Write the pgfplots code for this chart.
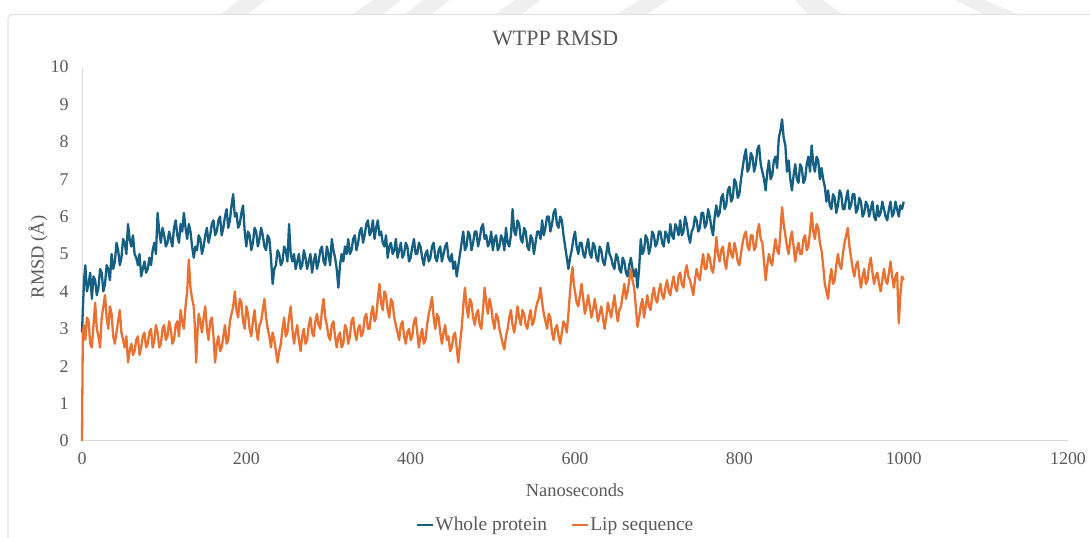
\documentclass[border=0pt]{standalone}
\usepackage{pgfplots}
\pgfplotsset{compat=1.18}
\usepackage{pgfplotstable}
\usepackage{fontspec}
\setmainfont{Liberation Serif}

\definecolor{wpblue}{HTML}{156082}
\definecolor{lporange}{HTML}{E97132}
\definecolor{txtgray}{HTML}{595959}
\definecolor{axgray}{HTML}{D9D9D9}
\definecolor{framegray}{HTML}{E3E3E3}
\definecolor{markgray}{HTML}{EFEFEF}

% RMSD of the whole protein (Angstrom) against simulation time (ns)
\pgfplotstableread{
t w
0 2.9
1 3.5
2.5 4.3
4 4.7
6 4.0
8 4.2
10 4.5
12 3.8
14 4.4
16 4.3
18 3.9
20 4.1
22 4.6
24 4.5
26 4.0
28 4.2
30 4.7
32 4.6
34 4.3
36 5.0
38 4.6
40 4.8
42 5.3
44 5.1
46 4.7
48 4.9
50 5.4
52 5.3
54 5.0
56 5.8
58 5.4
60 5.2
62 5.5
64 5.0
66 4.9
68 4.7
70 5.0
72 4.4
74 4.6
76 4.8
78 4.5
80 4.6
82 4.9
84 4.7
86 5.1
88 5.3
90 5.0
92 6.1
94 5.6
96 5.3
98 5.7
100 5.5
102 5.2
104 5.3
106 5.6
108 5.4
110 5.2
112 5.7
114 5.9
116 5.5
118 5.3
120 5.8
122 5.6
124 6.1
126 5.7
128 5.4
130 5.8
132 5.6
134 5.2
136 4.9
138 5.2
140 5.1
142 5.5
144 5.4
146 5.0
148 5.2
150 5.5
152 5.7
154 5.3
156 5.5
158 5.8
160 5.9
162 5.5
164 5.6
166 5.9
168 6.0
170 5.5
172 5.7
174 6.0
176 6.2
178 5.7
180 5.9
182 6.3
184 6.6
186 6.0
188 6.1
190 5.7
192 5.8
194 6.1
196 6.3
198 5.6
200 5.2
202 5.6
204 5.5
206 5.1
208 5.3
210 5.7
212 5.6
214 5.2
216 5.4
218 5.7
220 5.5
222 5.2
224 5.1
226 5.5
228 5.4
230 4.9
232 4.2
234 4.6
236 4.7
238 5.1
240 5.0
242 4.7
244 4.8
246 5.2
248 5.1
250 4.8
252 5.8
254 5.0
256 4.8
258 5.0
260 4.6
262 4.8
264 5.0
266 4.6
268 4.7
270 5.1
272 4.9
274 4.6
276 4.8
278 5.0
280 4.5
282 4.8
284 5.0
286 4.6
288 4.8
290 5.1
292 5.2
294 4.8
296 4.7
298 5.2
300 5.0
302 4.7
304 5.4
306 5.1
308 4.9
310 4.6
312 4.1
314 4.7
316 5.0
318 4.8
320 5.2
322 5.0
324 5.4
326 5.0
328 5.1
330 5.4
332 5.5
334 5.1
336 5.3
338 5.6
340 5.7
342 5.3
344 5.5
346 5.8
348 5.9
350 5.5
352 5.6
354 5.9
356 5.4
358 5.7
360 5.9
362 5.5
364 5.6
366 5.3
368 5.2
370 5.5
372 4.9
374 5.2
376 5.3
378 5.0
380 5.1
382 5.4
384 4.9
386 5.1
388 5.3
390 4.9
392 5.0
394 5.3
396 5.2
398 4.8
400 4.9
402 5.2
404 5.4
406 5.0
408 5.0
410 5.3
412 5.2
414 4.9
416 4.7
418 5.0
420 5.1
422 4.8
424 4.9
426 5.2
428 5.3
430 4.9
432 4.8
434 5.1
436 5.2
438 4.8
440 5.0
442 5.2
444 5.3
446 4.9
448 4.8
450 5.0
452 4.6
454 4.8
456 4.4
458 4.7
460 5.0
462 5.3
464 5.6
466 5.1
468 5.2
470 5.6
472 5.5
474 5.1
476 5.3
478 5.6
480 5.6
482 5.2
484 5.4
486 5.7
488 5.8
490 5.4
492 5.5
494 5.2
496 5.3
498 5.6
500 5.1
502 5.4
504 5.5
506 5.1
508 5.2
510 5.5
512 5.4
514 5.1
516 5.7
518 5.3
520 5.2
522 5.5
524 6.2
526 5.6
528 5.5
530 5.9
532 5.8
534 5.4
536 5.3
538 5.7
540 5.6
542 5.2
544 5.1
546 5.5
548 5.4
550 5.0
552 5.3
554 5.6
556 5.6
558 5.4
560 5.9
562 5.5
564 5.7
566 6.0
568 6.0
570 5.6
572 5.8
574 6.1
576 6.2
578 5.8
580 5.7
582 6.0
584 5.9
586 5.5
588 5.2
590 4.9
592 4.6
594 4.9
596 5.1
598 5.4
600 5.6
602 5.2
604 5.0
606 5.3
608 5.3
610 5.0
612 4.9
614 5.2
616 5.4
618 5.0
620 4.9
622 5.3
624 5.2
626 4.9
628 4.8
630 5.2
632 5.1
634 4.8
636 4.7
638 5.0
640 5.3
642 5.0
644 4.9
646 4.7
648 4.6
650 5.0
652 4.9
654 4.6
656 4.5
658 4.9
660 4.8
662 4.5
664 4.4
666 4.7
668 4.9
670 4.6
672 4.4
674 4.6
676 4.1
678 4.6
680 5.4
682 5.0
684 5.1
686 5.5
688 5.4
690 5.0
692 5.2
694 5.6
696 5.5
698 5.2
700 5.3
702 5.6
704 5.6
706 5.3
708 5.2
710 5.6
712 5.5
714 5.3
716 5.8
718 5.5
720 5.4
722 5.8
724 5.7
726 5.5
728 5.9
730 5.5
732 5.6
734 6.0
736 5.8
738 5.5
740 5.3
742 5.6
744 5.7
746 6.0
748 5.9
750 5.6
752 5.7
754 6.1
756 6.1
758 5.7
760 5.8
762 6.2
764 6.0
766 5.7
768 5.5
770 6.0
772 6.3
774 6.0
776 6.1
778 6.5
780 6.6
782 6.2
784 6.3
786 6.7
788 6.8
790 6.4
792 6.5
794 7.0
796 6.9
798 6.5
800 6.6
802 7.0
804 7.3
806 7.6
808 7.8
810 7.2
812 7.3
814 7.7
816 7.6
818 7.2
820 7.4
822 7.8
824 7.9
826 7.4
828 7.2
830 7.0
832 6.7
834 7.2
836 7.5
838 7.0
840 7.1
842 7.5
844 7.6
846 7.3
848 8.1
850 8.3
852 8.6
854 8.1
856 7.9
858 7.2
860 7.5
862 7.0
864 6.7
866 7.1
868 7.4
870 7.0
872 6.9
874 7.4
876 7.3
878 6.9
880 7.0
882 7.4
884 7.6
886 7.2
888 7.9
890 7.4
892 7.2
894 7.6
896 7.5
898 7.0
900 7.3
902 7.0
904 6.8
906 6.4
908 6.7
910 6.3
912 6.2
914 6.6
916 6.5
918 6.1
920 6.3
922 6.7
924 6.6
926 6.2
928 6.2
930 6.5
932 6.7
934 6.2
936 6.3
938 6.6
940 6.6
942 6.1
944 6.2
946 6.5
948 6.4
950 6.0
952 6.1
954 6.4
956 6.3
958 6.0
960 6.2
962 6.4
964 6.0
966 5.9
968 6.3
970 6.0
972 6.1
974 6.4
976 6.2
978 6.0
980 5.9
982 6.2
984 6.4
986 6.0
988 6.1
990 6.4
992 6.2
994 6.0
996 6.3
998 6.2
1000 6.4
}\wholeprotein

% RMSD of the lipid-binding (Lip) sequence
\pgfplotstableread{
t l
0 0.0
1 2.9
2.5 3.1
4 2.7
6 3.3
8 3.2
10 2.6
12 2.5
14 3.1
16 3.7
18 3.0
20 2.8
22 2.5
24 3.3
26 3.6
28 3.9
30 3.3
32 3.0
34 3.6
36 3.4
38 2.8
40 2.6
42 2.9
44 3.2
46 3.5
48 2.9
50 2.7
52 2.5
54 2.8
56 2.1
58 2.4
60 2.6
62 2.3
64 2.4
66 2.7
68 2.8
70 2.3
72 2.5
74 2.8
76 2.9
78 2.5
80 2.6
82 2.9
84 3.0
86 2.5
88 2.7
90 3.1
92 2.9
94 2.5
96 2.6
98 3.0
100 3.1
102 2.7
104 2.8
106 3.2
108 3.0
110 2.6
112 2.7
114 3.1
116 3.2
118 2.8
120 3.5
122 3.2
124 3.0
126 3.6
128 4.0
130 4.85
132 4.1
134 3.8
136 3.6
137.5 3.0
139 2.1
140.5 2.9
142 3.4
144 3.2
146 2.9
148 3.3
150 3.6
152 3.0
154 2.7
156 3.2
158 3.3
160 2.8
162 2.1
164 2.6
166 2.8
168 2.4
170 2.5
172 2.8
174 3.1
176 2.6
178 2.7
180 3.2
182 3.4
184 3.6
186 4.0
188 3.5
190 3.3
192 3.8
194 3.7
196 3.2
198 3.0
200 3.6
202 3.4
204 3.0
206 2.8
208 3.2
210 3.5
212 3.0
214 2.7
216 3.1
218 3.2
220 3.5
222 3.8
224 3.3
226 3.0
228 2.8
230 2.5
232 2.9
234 2.7
236 2.4
238 2.1
240 2.4
242 2.6
244 3.0
246 3.3
248 2.8
250 2.9
252 3.3
254 3.6
256 3.0
258 2.6
260 2.9
262 3.1
264 2.7
266 2.4
268 2.8
270 3.0
272 2.6
274 2.7
276 3.1
278 3.3
280 2.9
282 2.8
284 3.2
286 3.4
288 3.1
290 3.0
292 3.5
294 3.8
296 3.3
298 3.1
300 2.8
302 2.7
304 3.1
306 3.2
308 2.8
310 2.5
312 2.8
314 2.9
316 2.5
318 2.6
320 3.1
322 3.0
324 2.6
326 2.8
328 3.2
330 3.3
332 2.9
334 2.7
336 3.0
338 3.1
340 2.8
342 2.9
344 3.3
346 3.4
348 3.0
350 3.0
352 3.4
354 3.6
356 3.2
358 3.3
360 3.8
362 4.2
364 3.7
366 3.5
368 4.0
370 3.9
372 3.5
374 3.3
376 3.8
378 3.7
380 3.3
382 3.1
384 2.9
386 2.7
388 3.1
390 3.2
392 2.8
394 2.6
396 2.9
398 3.0
400 2.7
402 2.8
404 3.2
406 3.3
408 2.9
410 2.5
412 2.8
414 3.0
416 2.6
418 2.7
420 3.1
422 3.4
424 3.6
426 3.85
428 3.3
430 3.0
432 3.4
434 3.3
436 2.9
438 2.6
440 2.9
442 3.1
444 2.7
446 2.8
448 2.4
450 2.5
452 2.8
454 2.9
456 2.5
458 2.1
460 2.6
462 3.0
464 3.6
466 4.1
468 3.6
470 3.3
472 3.8
474 3.7
476 3.3
478 3.1
480 3.4
482 3.5
484 3.1
486 3.0
488 3.5
490 4.1
492 3.7
494 3.4
496 3.8
498 3.6
500 3.2
502 3.0
504 3.4
506 3.3
508 3.0
510 2.8
512 2.6
514 2.45
516 2.8
518 3.0
520 3.3
522 3.5
524 3.1
526 2.9
528 3.2
530 3.6
532 3.3
534 3.1
536 3.5
538 3.4
540 3.1
542 3.0
544 3.3
546 3.5
548 3.1
550 3.2
552 3.5
554 3.7
556 3.8
558 4.1
560 3.7
562 3.4
564 3.2
566 3.0
568 3.4
570 3.3
572 2.9
574 2.7
576 3.0
578 3.1
580 2.8
582 2.6
584 2.9
586 3.2
588 3.1
590 2.9
592 3.4
594 4.0
595.5 4.4
597 4.65
598.5 4.2
600 4.0
602 3.7
604 3.6
606 3.9
608 4.2
610 3.8
612 3.4
614 3.6
616 3.9
618 3.6
620 3.3
622 3.5
624 3.8
626 3.5
628 3.2
630 3.4
632 3.6
634 3.3
636 3.0
638 3.3
640 3.7
642 3.5
644 3.3
646 3.6
648 3.9
650 3.5
652 3.2
654 3.5
656 3.6
658 3.9
660 4.2
662 3.8
664 4.0
666 4.3
668 4.6
670 4.3
672 4.1
674 3.6
676 3.05
678 3.3
680 3.6
682 3.8
684 3.3
686 3.6
688 3.9
690 3.6
692 3.5
694 3.9
696 4.1
698 3.8
700 3.7
702 4.0
704 4.2
706 3.9
708 3.8
710 4.1
712 4.3
714 4.0
716 3.9
718 4.2
720 4.4
722 4.1
724 4.0
726 4.4
728 4.5
730 4.2
732 4.1
734 4.5
736 4.7
738 4.4
740 4.3
742 4.1
744 3.9
746 4.3
748 4.6
750 4.4
752 4.3
754 4.7
756 5.0
758 4.6
760 4.6
762 5.0
764 4.9
766 4.6
768 4.5
770 4.9
772 5.45
774 5.0
776 4.8
778 5.1
780 5.2
782 4.8
784 4.6
786 5.0
788 5.3
790 5.0
792 4.9
794 5.3
796 5.1
798 4.8
800 4.7
802 5.0
804 5.3
806 5.5
808 5.6
810 5.2
812 5.1
814 5.5
816 5.5
818 5.1
820 5.2
822 5.6
824 5.8
826 5.4
828 5.3
830 4.8
832 4.3
834 4.7
836 5.0
838 4.8
840 4.7
842 5.1
844 5.4
846 5.1
848 5.0
850 5.6
852 6.25
854 5.8
856 5.5
858 5.2
860 5.0
862 5.4
864 5.6
866 5.2
868 4.8
870 5.1
872 5.3
874 5.0
876 5.0
878 5.4
880 5.5
882 5.1
884 5.2
886 5.6
888 6.1
890 5.6
892 5.4
894 5.8
896 5.7
898 5.3
900 5.1
902 4.7
904 4.2
906 4.0
908 3.8
910 4.3
912 4.6
914 4.2
916 4.3
918 4.7
920 5.0
922 4.7
924 4.6
926 5.0
928 5.3
930 5.5
932 5.7
934 5.2
936 4.9
938 4.6
940 4.4
942 4.7
944 4.8
946 4.4
948 4.1
950 4.4
952 4.6
954 4.2
956 4.3
958 4.7
960 4.9
962 4.5
964 4.2
966 4.4
968 4.5
970 4.2
972 4.0
974 4.3
976 4.6
978 4.3
980 4.2
982 4.5
984 4.8
986 4.4
988 4.1
990 4.4
992 4.5
994 3.15
996 3.9
998 4.4
1000 4.3
}\lipsequence

\begin{document}
\begin{tikzpicture}[x=1bp,y=1bp]
\useasboundingbox (0,0) rectangle (1090,538);

% faint page background stripes above the chart box
\begin{scope}[fill=markgray]
  \fill (219,523) -- (247,523) -- (266,538) -- (240,538) -- cycle;
  \fill (351,523) -- (382,523) -- (401,538) -- (373,538) -- cycle;
  \fill (403,523) -- (431,523) -- (450,538) -- (424,538) -- cycle;
  \fill (494,523) -- (521,523) -- (540,538) -- (515,538) -- cycle;
  \fill (615,523) -- (645,523) -- (668,538) -- (640,538) -- cycle;
  \fill (809,523) -- (844,523) -- (823,538) -- (795,538) -- cycle;
  \fill (985,523) -- (1020,523) -- (985,538) -- (955,538) -- cycle;
\end{scope}

% chart box
\fill[white] (8,0) rectangle (1090,523.5);
\draw[framegray, line width=1.2bp, rounded corners=4bp] (8,-2) -- (8,523.5) -- (1095,523.5);

\begin{axis}[
  at={(82bp,97bp)}, anchor=south west,
  scale only axis, width=986bp, height=374bp,
  xmin=0, xmax=1200, ymin=0, ymax=10,
  axis lines*=left,
  axis line style={axgray, line width=1bp},
  xtick={0,200,...,1200}, ytick={0,1,...,10},
  major tick length=0pt,
  /pgf/number format/assume math mode=true,
  /pgf/number format/1000 sep={},
  scaled ticks=false,
  tick label style={font=\fontsize{18}{18}\selectfont, text=txtgray},
  xticklabel style={yshift=-8bp},
  yticklabel style={xshift=-10bp},
  every axis title shift=0pt,
  title={WTPP RMSD},
  title style={font=\fontsize{22}{22}\selectfont, text=txtgray,
               at={(rel axis cs:0.48,1.0775)}, anchor=center},
  xlabel={Nanoseconds},
  xlabel style={font=\fontsize{18.5}{18.5}\selectfont, text=txtgray,
                at={(rel axis cs:0.5,-0.131)}, anchor=center},
  ylabel={RMSD (Å)},
  ylabel style={font=\fontsize{18.5}{18.5}\selectfont, text=txtgray,
                at={(rel axis cs:-0.0446,0.492)}, anchor=center, rotate=0},
  legend columns=2,
  legend style={at={(rel axis cs:0.48,-0.2246)}, anchor=center,
                draw=none, fill=none,
                font=\fontsize{19.5}{19.5}\selectfont, text=txtgray,
                nodes={inner sep=1.5bp},
                /tikz/every even column/.append style={column sep=22bp}},
  legend image code/.code={\draw[#1, line width=2.2bp] (0bp,0bp) -- (16bp,0bp);},
  clip=false,
]
\addplot[wpblue, line width=2.3bp, line join=round, no markers] table[x=t, y=w] {\wholeprotein};
\addlegendentry{Whole protein}
\addplot[lporange, line width=2.3bp, line join=round, no markers] table[x=t, y=l] {\lipsequence};
\addlegendentry{Lip sequence}
\end{axis}
\end{tikzpicture}
\end{document}
